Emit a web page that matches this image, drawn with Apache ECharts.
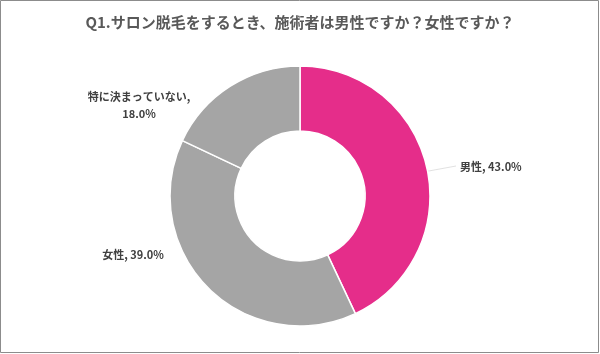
<!DOCTYPE html>
<html><head><meta charset="utf-8">
<script src="https://cdn.jsdelivr.net/npm/echarts@6/dist/echarts.min.js"></script>
<style>html,body{margin:0;padding:0;background:#fff}#c{width:600px;height:354px}</style>
</head><body><div id="c"></div>
<script>
var titleText = 'Q1.サロン脱毛をするとき、施術者は男性ですか？女性ですか？';
var categories = ['男性', '女性', '特に決まっていない'];
var values = [43.0, 39.0, 18.0];
var colors = ['#E52D8A', '#A5A5A5', '#A5A5A5'];

var chart = echarts.init(document.getElementById('c'), null, {renderer: 'canvas'});
var font = "'Noto Sans CJK JP', 'Noto Sans', sans-serif";
var CX = 300, CY = 196;
var labelPos = [
  {x: 460, y: 167, align: 'left'},
  {x: 133, y: 255, align: 'center'},
  {x: 139, y: 105, align: 'center'}
];
var total = values.reduce(function (a, b) { return a + b; }, 0);
var data = categories.map(function (n, i) {
  return {
    name: n, value: values[i],
    itemStyle: {color: colors[i]},
    labelLine: {show: i === 0}
  };
});
chart.setOption({
  animation: false,
  backgroundColor: '#fff',
  title: {
    text: titleText, left: 'center', top: 10,
    textStyle: {fontFamily: font, fontSize: 15, fontWeight: 'bold', color: '#595959'}
  },
  graphic: [{
    type: 'rect', shape: {x: 0.5, y: 0.5, width: 598, height: 352},
    style: {fill: 'none', stroke: '#8c8c8c', lineWidth: 1}, silent: true
  }],
  series: [{
    type: 'pie',
    center: [CX, CY],
    radius: [65, 130],
    startAngle: 90,
    clockwise: true,
    data: data,
    itemStyle: {borderColor: '#fff', borderWidth: 1.5},
    label: {
      show: true,
      fontFamily: font, fontSize: 11, fontWeight: 'bold', color: '#404040',
      lineHeight: 17,
      formatter: function (p) {
        if (p.dataIndex === 2) return p.name + ',\n' + p.value.toFixed(1) + '%';
        return p.name + ', ' + p.value.toFixed(1) + '%';
      }
    },
    labelLine: {show: true, showAbove: true, lineStyle: {color: '#d9d9d9', width: 1, opacity: 0.8}, length: 10, length2: 10},
    labelLayout: function (p) {
      var i = p.dataIndex;
      var lp = labelPos[i];
      var res = {x: lp.x, y: lp.y, align: lp.align, verticalAlign: 'middle'};
      if (i === 0) {
        var before = 0;
        for (var k = 0; k < i; k++) before += values[k];
        var midFrac = (before + values[i] / 2) / total;
        var ang = Math.PI / 2 - midFrac * 2 * Math.PI;
        var r = 97;
        var sx = CX + r * Math.cos(ang), sy = CY - r * Math.sin(ang);
        res.labelLinePoints = [[sx, sy], [sx + 35, sy - 4], [lp.x - 4, lp.y - 1]];
      }
      return res;
    }
  }]
});
</script></body></html>
